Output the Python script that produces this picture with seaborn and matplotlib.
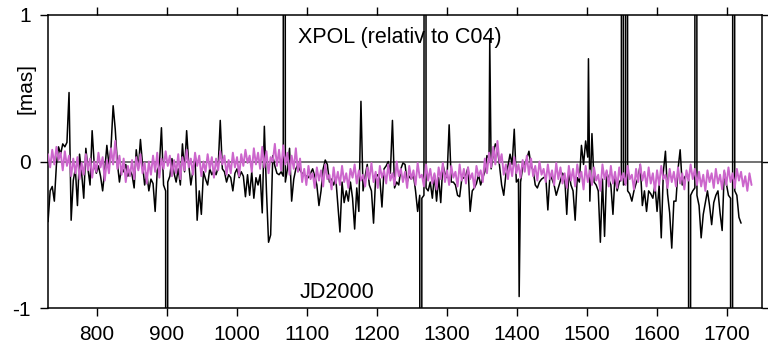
import numpy as np
import pandas as pd
import matplotlib
matplotlib.use("Agg")
import matplotlib.pyplot as plt
import seaborn as sns

# Black series: XPOL residuals, every 3 days from JD2000 730 (values in 0.01 mas)
xpol_start, xpol_step = 730, 3
xpol_cmas = [
    -41, -20, -17, -27, -2, 10, 5, 12, 10, 13,
    47, -40, -13, -5, -30, 5, -8, -25, 9, -5,
    -16, 21, -2, -8, -3, -10, -20, -6, 11, -2,
    10, 38, 22, -1, -14, -4, -7, -2, -10, -6,
    -9, -18, 8, -5, 15, -2, -16, -8, -20, -12,
    -15, -34, -6, -3, 23, -16, -20, -14, -10, 2,
    -8, -14, -5, -16, 12, -7, 21, -2, -16, -6,
    3, -40, -20, -36, -7, -12, -16, -5, -9, -6,
    -9, -4, 28, -5, -7, -14, -9, -11, -20, -8,
    -5, -11, -7, -10, -24, -9, -23, -7, -25, -11,
    -16, -9, -35, 24, -20, -55, -50, 4, -3, -8,
    -9, -7, -10, -14, -5, 9, -27, -12, -5, -2,
    -6, -8, -9, -10, -11, -8, -5, -10, -16, -30,
    -20, -5, 1, -2, -14, -12, -16, -11, -30, -48,
    -14, -28, -20, -27, -14, -25, -46, -18, -34, 41,
    -20, -10, -2, -16, -20, -42, -11, -9, -12, -31,
    -5, -3, 0, -8, 28, -18, -14, -16, -5, -1,
    -2, -14, -10, -12, -9, -20, -34, -23, -25, -23,
    -18, -20, -14, -25, -9, -27, -11, -28, -2, -8,
    -11, 25, -14, -14, -16, -23, -24, -12, -11, -9,
    -4, -34, -20, -18, -15, -9, -16, -11, -7, 4,
    2, -5, 5, 12, 9, -3, -16, -23, -9, -3,
    5, -2, 22, -14, -12, -14, -4, -2, 2, 7,
    -3, -6, -16, -18, -14, -12, -11, -10, -33, -9,
    -12, -16, -23, -18, -13, -8, -10, -36, -7, -16,
    -20, -40, -11, -14, 11, -2, 14, 3, -27, 19,
    -14, -16, -20, -55, -12, -51, -7, -12, -16, -36,
    -9, -20, -14, -12, -16, -15, -20, -22, -27, -20,
    -15, -11, -2, -30, -20, -34, -20, -22, -25, -16,
    -34, -16, -52, -7, 7, -22, -35, -59, -27, -27,
    -5, 8, -16, -11, -9, -12, -23, -20, -18, -23,
    -30, -52, -36, -28, -20, -30, -43, -28, -23, -20,
    -35, -47, -7, -15, -23, -25, -15, -20, -23, -38,
    -42,
]

# Single-day outliers of the same series (JD2000, 0.01 mas)
outlier_jd = [899, 1067, 1263, 1269, 1361, 1403, 1502, 1550, 1556,
              1646, 1655, 1706, 1709]
outlier_cmas = [-2000, 2000, -2000, 2000, 83, -92, 70, 2000, 2000,
                -2000, 2000, -2000, 2000]

# Magenta series: model XPOL, every 3 days from JD2000 730 (values in 0.01 mas)
model_start, model_step = 730, 3
model_cmas = [
    5, -4, 8, -2, 10, 1, 6, -6, 7, -3,
    4, -10, 2, -8, 3, -12, -1, -9, 5, -6,
    2, -11, 0, -7, 6, -4, 3, -13, 1, -8,
    9, -2, 14, -5, 4, -9, 2, -14, -3, -10,
    1, -12, 3, -6, 5, -8, -1, -15, 0, -9,
    4, -7, 6, -11, 2, -5, 7, -3, 4, -10,
    1, -8, 5, -12, 3, -6, 8, -4, 2, -9,
    6, -3, 4, -10, 0, -7, 5, -5, 3, -11,
    2, -6, 7, -2, 4, -9, 1, -8, 6, -4,
    3, -10, 5, -3, 8, -1, 4, -7, 9, -2,
    6, -5, 10, -4, 7, -8, 3, 0, 12, -3,
    8, -6, 11, -2, 6, -9, 4, -5, 9, -7,
    2, -14, -5, -16, -3, -12, -8, -18, -4, -13,
    -6, -17, -2, -12, -9, -19, -4, -15, -7, -16,
    -3, -14, -8, -18, -5, -11, -2, -15, -6, -13,
    -9, -17, -4, -12, -1, -14, -7, -18, -3, -11,
    -6, -15, -2, -13, -8, -16, 0, -10, -5, -14,
    -7, -18, -3, -12, -6, -16, -1, -11, -9, -17,
    -2, -13, -5, -15, -8, -19, -4, -12, -1, -14,
    -6, -16, -3, -11, -7, -17, -2, -13, -5, -15,
    -4, -12, -8, -18, -3, -10, -6, -14, 2, -8,
    6, -4, 10, -2, 14, -1, 5, -9, -2, -12,
    -1, -10, 3, -8, -2, -11, 1, -7, 4, -9,
    2, -10, -3, -13, 0, -9, -5, -14, -2, -12,
    -6, -16, -1, -12, -4, -15, -8, -18, -3, -13,
    -5, -17, -2, -11, -7, -19, -3, -14, -6, -16,
    -4, -13, -9, -20, -2, -12, -6, -17, -3, -15,
    -7, -18, -4, -13, -8, -16, -3, -12, -9, -19,
    -5, -14, -2, -13, -7, -17, -4, -15, -8, -20,
    -6, -16, -3, -12, -9, -18, -5, -14, -7, -17,
    -4, -15, -8, -19, -6, -13, -2, -12, -5, -16,
    -7, -17, -9, -20, -6, -14, -8, -18, -5, -15,
    -9, -19, -6, -16, -4, -14, -8, -18, -5, -13,
    -7, -17, -10, -20, -8, -16,
]

x_ticks = [800, 900, 1000, 1100, 1200, 1300, 1400, 1500, 1600, 1700]
y_ticks = [-1, 0, 1]

xpol = pd.concat([
    pd.DataFrame({"jd": xpol_start + xpol_step * np.arange(len(xpol_cmas)),
                  "cmas": xpol_cmas}),
    pd.DataFrame({"jd": outlier_jd, "cmas": outlier_cmas}),
]).sort_values("jd", kind="stable").reset_index(drop=True)
xpol["mas"] = xpol["cmas"] / 100.0

model = pd.DataFrame({
    "jd": model_start + model_step * np.arange(len(model_cmas)),
    "mas": np.array(model_cmas) / 100.0,
})

sns.set_style("ticks")
plt.rcParams["font.family"] = ["Liberation Sans", "DejaVu Sans"]
plt.rcParams["font.size"] = 15
plt.rcParams["axes.unicode_minus"] = False
plt.rcParams["text.color"] = "black"
plt.rcParams["xtick.color"] = "black"
plt.rcParams["ytick.color"] = "black"
plt.rcParams["xtick.labelcolor"] = "black"
plt.rcParams["ytick.labelcolor"] = "black"

fig = plt.figure(figsize=(7.68, 3.47), dpi=100)
ax = fig.add_axes([0.0621, 0.1115, 0.9297, 0.8461])

ax.axhline(0, color="#5a5a5a", lw=1.2, zorder=1)
sns.lineplot(data=xpol, x="jd", y="mas", ax=ax, color="black", lw=1.1,
             estimator=None, sort=False, zorder=2)
sns.lineplot(data=model, x="jd", y="mas", ax=ax, color="#CC66CC", lw=1.4,
             estimator=None, sort=False, zorder=3)

ax.set_xlim(729.5, 1749.5)
ax.set_ylim(-1, 1)
ax.set_xticks(x_ticks)
ax.set_yticks(y_ticks)
ax.set_xlabel("")
ax.set_ylabel("")

for side in ["left", "right", "top", "bottom"]:
    ax.spines[side].set_visible(True)
    ax.spines[side].set_color("black")
    ax.spines[side].set_linewidth(1.1)

ax.tick_params(axis="both", which="major", direction="out", length=6,
               width=1.0, colors="black", labelsize=15, pad=6,
               top=True, right=True, labeltop=False, labelright=False)

ax.text(0.3506, 0.9026, "XPOL (relativ to C04)", transform=ax.transAxes,
        ha="left", va="baseline", fontsize=15.5, color="black")
ax.text(0.3534, 0.0341, "JD2000", transform=ax.transAxes,
        ha="left", va="baseline", fontsize=15.5, color="black")
fig.text(0.0339, 0.746, "[mas]", rotation=90, ha="center", va="center",
         fontsize=15, color="black")

fig.savefig("out.png", dpi=100)
